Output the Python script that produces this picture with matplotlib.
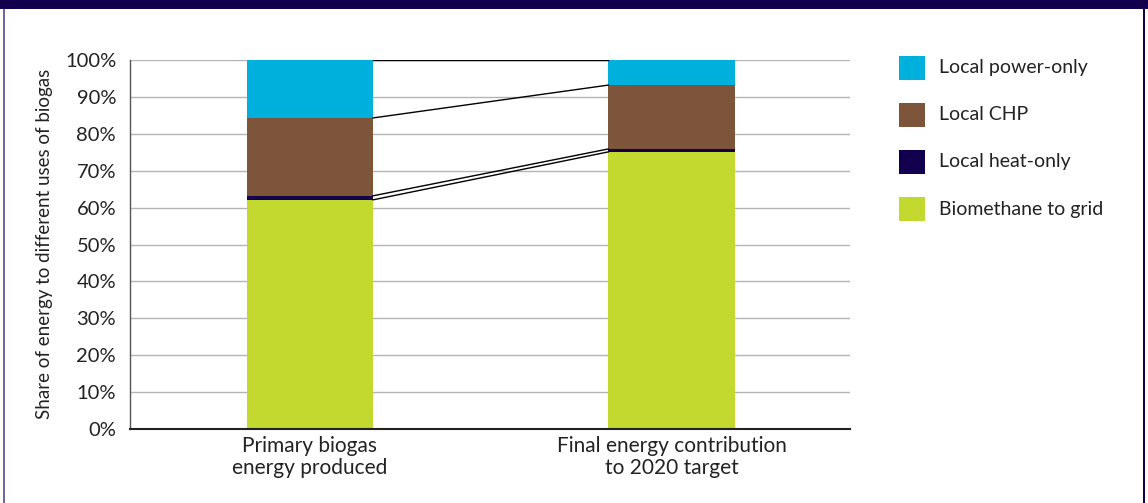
import numpy as np
import matplotlib.pyplot as plt
from matplotlib.patches import Rectangle

plt.rcParams['font.family'] = ['Lato', 'DejaVu Sans']

categories = ['Primary biogas\nenergy produced', 'Final energy contribution\nto 2020 target']
series = ['Biomethane to grid', 'Local heat-only', 'Local CHP', 'Local power-only']
biomethane = [62.1, 75.1]
heat_only = [1.1, 0.8]
chp = [21.1, 17.3]
power_only = [15.7, 6.8]
colors = ['#c3d92f', '#12004e', '#7d553b', '#00b0dc']
yticks = [0, 10, 20, 30, 40, 50, 60, 70, 80, 90, 100]

W, H = 1148, 503
fig = plt.figure(figsize=(W / 100, H / 100), dpi=100)
ax = fig.add_axes([130 / W, 1 - 429 / H, 720 / W, 369 / H])

x = np.arange(len(categories))
bw = 0.349
values = [biomethane, heat_only, chp, power_only]
bottom = np.zeros(len(categories))
tops = []
for vals, c in zip(values, colors):
    vals = np.array(vals)
    ax.bar(x, vals, bw, bottom=bottom, color=c, zorder=3, linewidth=0)
    bottom = bottom + vals
    tops.append(bottom.copy())

# connector lines between the two bars
for t in tops:
    ax.plot([x[0] + bw / 2, x[1] - bw / 2], [t[0], t[1]], color='black', lw=1.0, zorder=4)

ax.set_xlim(-0.498, 1.494)
ax.set_ylim(0, 100)
ax.set_yticks(yticks)
ax.set_yticklabels([f'{v}%' for v in yticks], fontsize=14.5, color='#222222')
ax.set_xticks(x)
ax.set_xticklabels(categories, fontsize=15, color='#222222', linespacing=1.15)
ax.tick_params(axis='both', length=0)
ax.tick_params(axis='y', pad=10)
ax.tick_params(axis='x', pad=5)
ax.yaxis.grid(True, color='#b4b4b4', lw=1.0, zorder=0)
ax.set_axisbelow(True)
for s in ['top', 'right']:
    ax.spines[s].set_visible(False)
ax.spines['left'].set_color('#555555')
ax.spines['left'].set_linewidth(1.0)
ax.spines['bottom'].set_color('#222222')
ax.spines['bottom'].set_linewidth(1.5)
ax.spines['bottom'].set_zorder(5)
fig.text(45 / W, 1 - 244 / H, 'Share of energy to different uses of biogas', fontsize=13.5,
         color='#222222', rotation=90, ha='center', va='center')

# legend drawn by hand in pixel coordinates
for i, (name, c) in enumerate(zip(series[::-1], colors[::-1])):
    yc = 68 + i * 47
    fig.add_artist(Rectangle(((899) / W, 1 - (yc + 12) / H), 26 / W, 24 / H,
                             transform=fig.transFigure, color=c, lw=0))
    fig.text(939 / W, 1 - yc / H, name, fontsize=14, color='#222222', va='center', ha='left')

# frame decoration
fig.add_artist(Rectangle((0, 1 - 9 / H), 1, 9 / H, transform=fig.transFigure,
                         color='#12004e', lw=0))
fig.add_artist(Rectangle((3 / W, 0), 2 / W, 1 - 9 / H, transform=fig.transFigure,
                         color='#7565a8', lw=0))
fig.add_artist(Rectangle((1143 / W, 0), 2 / W, 1 - 9 / H, transform=fig.transFigure,
                         color='#12004e', lw=0))

fig.savefig('out.png', dpi=100)
